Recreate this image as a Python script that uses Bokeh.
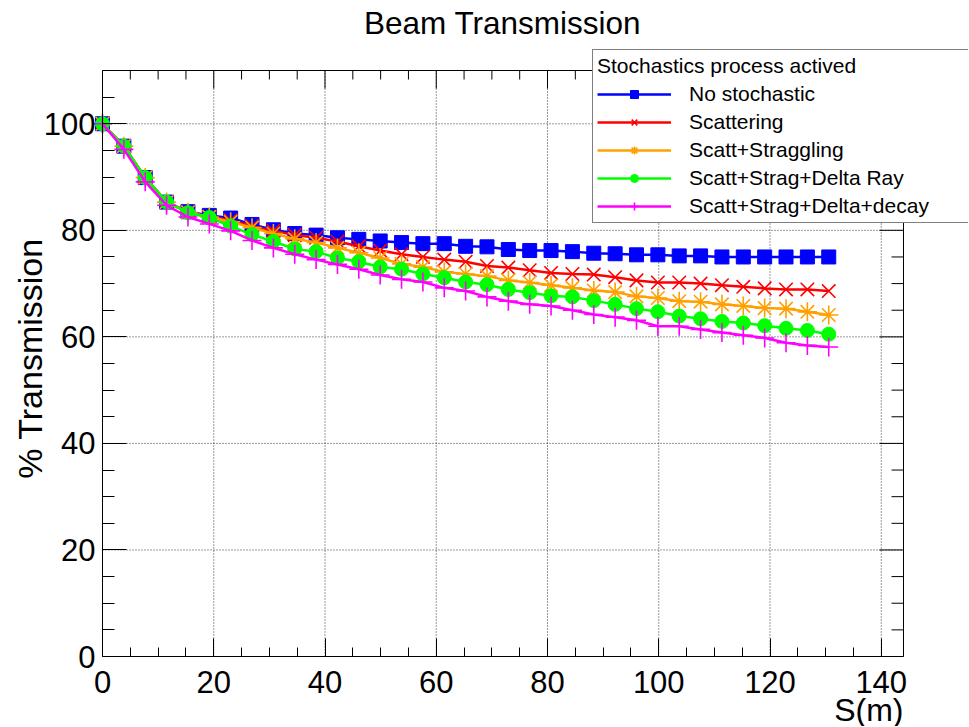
from bokeh.plotting import figure
from bokeh.models import Range1d, FixedTicker, Legend, LegendItem, Label
from bokeh.embed import file_html
from bokeh.resources import INLINE
import math

# ---------------- data ----------------
s_m = [0.0, 3.84, 7.68, 11.52, 15.36, 19.2, 23.04, 26.88, 30.72, 34.56, 38.4,
       42.24, 46.08, 49.92, 53.76, 57.6, 61.44, 65.28, 69.12, 72.96, 76.8,
       80.64, 84.48, 88.32, 92.16, 96.0, 99.84, 103.68, 107.52, 111.36, 115.2,
       119.04, 122.88, 126.72, 130.56]

no_stochastic = [100, 95.8, 89.9, 85.3, 83.5, 82.8, 82.3, 81.1, 80.1, 79.4, 79.1,
                 78.6, 78.3, 78.0, 77.7, 77.5, 77.5, 77.0, 76.9, 76.4, 76.2,
                 76.2, 76.0, 75.7, 75.6, 75.4, 75.4, 75.2, 75.2, 75.0, 75.0,
                 75.0, 75.0, 75.0, 75.0]

scattering = [100, 95.8, 89.9, 85.3, 83.4, 82.6, 81.9, 80.8, 79.9, 79.1, 78.6,
              77.9, 77.0, 76.2, 75.5, 75.0, 74.5, 74.1, 73.3, 73.0, 72.5,
              72.0, 71.8, 71.7, 71.2, 70.6, 70.2, 70.2, 70.0, 69.7, 69.4,
              69.1, 68.9, 68.9, 68.6]

scatt_straggling = [100, 95.8, 89.9, 85.3, 83.4, 82.5, 81.6, 80.5, 79.4, 78.4, 77.7,
                    76.7, 75.8, 74.8, 73.7, 73.1, 72.2, 71.8, 71.4, 70.6, 70.2,
                    69.7, 69.2, 68.7, 68.4, 67.6, 67.3, 66.7, 66.6, 66.1, 65.8,
                    65.4, 65.3, 64.7, 64.1]

scatt_strag_delta = [100, 95.8, 89.9, 85.3, 83.3, 82.4, 80.8, 79.2, 77.9, 76.5, 76.0,
                     74.8, 74.1, 73.1, 72.7, 71.8, 71.1, 70.3, 69.8, 68.9, 68.3,
                     67.7, 67.5, 66.8, 66.1, 65.3, 64.7, 63.9, 63.4, 62.9, 62.6,
                     62.1, 61.6, 61.2, 60.5]

scatt_strag_delta_decay = [100, 95.2, 89.1, 84.7, 82.5, 81.2, 79.9, 78.1, 76.7, 75.5, 74.5,
                           73.6, 72.7, 71.6, 70.8, 70.3, 69.2, 68.6, 67.5, 66.7, 66.1,
                           65.8, 65.0, 64.2, 63.7, 63.1, 62.0, 62.0, 61.4, 60.8, 60.3,
                           59.8, 58.9, 58.4, 58.1]

series_labels = ["No stochastic", "Scattering", "Scatt+Straggling",
                 "Scatt+Strag+Delta Ray", "Scatt+Strag+Delta+decay"]

x_major_ticks = [0, 20, 40, 60, 80, 100, 120, 140]
x_minor_ticks = [5, 10, 15, 25, 30, 35, 45, 50, 55, 65, 70, 75, 85, 90, 95,
                 105, 110, 115, 125, 130, 135]
y_major_ticks = [0, 20, 40, 60, 80, 100]
y_minor_ticks = [5, 10, 15, 25, 30, 35, 45, 50, 55, 65, 70, 75, 85, 90, 95, 105]

X_MAX = 144
Y_MAX = 110

FONT = "Liberation Sans"

# geometry (pixels)
AX_W = 801   # width of the drawn axes box
AX_H = 586   # height of the drawn axes box
PX_X = AX_W / X_MAX
PX_Y = AX_H / Y_MAX
CANVAS_W, CANVAS_H = 968, 726
LEFT, BOTTOM = 102, 70   # position of the axes origin from left / bottom of canvas

def dx(px):   # canvas pixel column -> data x
    return (px - LEFT) / PX_X

def dy(py):   # canvas pixel row (from top) -> data y
    return (CANVAS_H - BOTTOM - py) / PX_Y

p = figure(frame_width=CANVAS_W, frame_height=CANVAS_H, title=None,
           x_range=Range1d(dx(0), dx(CANVAS_W)),
           y_range=Range1d(dy(CANVAS_H), dy(0)),
           output_backend="svg", toolbar_location=None,
           min_border_left=0, min_border_right=0,
           min_border_top=0, min_border_bottom=0)
p.outline_line_color = None
p.background_fill_color = "white"
p.border_fill_color = "white"
p.xgrid.visible = False
p.ygrid.visible = False

xt = FixedTicker(ticks=x_major_ticks, minor_ticks=x_minor_ticks)
yt = FixedTicker(ticks=y_major_ticks, minor_ticks=y_minor_ticks)

xa = p.xaxis[0]
ya = p.yaxis[0]
xa.ticker = xt
ya.ticker = yt
xa.bounds = (0, X_MAX)
ya.bounds = (0, Y_MAX)
xa.fixed_location = 0
ya.fixed_location = 0

for ax, maj, mnr, std in ((xa, 18, 9, 14), (ya, 24, 12, 7)):
    ax.axis_line_color = "black"
    ax.major_tick_in = maj
    ax.major_tick_out = 0
    ax.minor_tick_in = mnr
    ax.minor_tick_out = 0
    ax.major_tick_line_color = "black"
    ax.minor_tick_line_color = "black"
    ax.major_label_text_font = FONT
    ax.major_label_text_font_size = "31px"
    ax.major_label_text_color = "black"
    ax.major_label_standoff = std

# grid lines (dotted) at major ticks
gx = x_major_ticks[1:]
p.segment(x0=gx, y0=[0] * len(gx), x1=gx, y1=[Y_MAX] * len(gx),
          line_color="black", line_dash="1 2", line_width=1, line_alpha=0.8)
gy = y_major_ticks[1:]
p.segment(x0=[0] * len(gy), y0=gy, x1=[X_MAX] * len(gy), y1=gy,
          line_color="black", line_dash="1 2", line_width=1, line_alpha=0.8)

# top and right sides of the box with mirrored ticks
p.segment(x0=[0, X_MAX], y0=[Y_MAX, 0], x1=[X_MAX, X_MAX], y1=[Y_MAX, Y_MAX],
          line_color="black", line_width=1)
tx = x_major_ticks + x_minor_ticks
tlen = [18 / PX_Y] * len(x_major_ticks) + [9 / PX_Y] * len(x_minor_ticks)
p.segment(x0=tx, y0=[Y_MAX] * len(tx), x1=tx, y1=[Y_MAX - L for L in tlen],
          line_color="black", line_width=1)
ty = y_major_ticks + y_minor_ticks
tlen_y = [24 / PX_X] * len(y_major_ticks) + [12 / PX_X] * len(y_minor_ticks)
p.segment(x0=[X_MAX] * len(ty), y0=ty, x1=[X_MAX - L for L in tlen_y], y1=ty,
          line_color="black", line_width=1)

series = [no_stochastic, scattering, scatt_straggling, scatt_strag_delta, scatt_strag_delta_decay]
colors = ["#0000ff", "#ff0000", "#ffa000", "#00ff00", "#ff00ff"]
markers = ["square", "x", "asterisk", "circle", "cross"]
sizes = [14, 19, 19, 14, 19]

items = []
for ys, col, mk, sz, lab in zip(series, colors, markers, sizes, series_labels):
    lr = p.line(s_m, ys, line_color=col, line_width=2.5)
    if mk in ("square", "circle"):
        sr = p.scatter(s_m, ys, marker=mk, size=sz, fill_color=col, line_color=col)
    else:
        sr = p.scatter(s_m, ys, marker=mk, size=sz, line_color=col, line_width=1.6, fill_color=None)
    items.append(LegendItem(label=lab, renderers=[lr, sr]))

legend = Legend(items=items, location=(592, CANVAS_H - 223),
                title="Stochastics process actived",
                title_text_font=FONT, title_text_font_size="21px",
                title_text_font_style="normal", title_text_color="black",
                title_standoff=4,
                label_text_font=FONT, label_text_font_size="21px",
                label_text_color="black",
                glyph_width=74, glyph_height=20, label_standoff=18,
                label_width=276, label_height=22,
                padding=4, spacing=4, margin=0,
                border_line_color="black", border_line_width=1,
                background_fill_color="white", background_fill_alpha=1.0)
p.add_layout(legend)

title = Label(x=dx(502), y=dy(22), text="Beam Transmission", text_align="center",
              text_baseline="middle", text_font=FONT, text_font_size="31.5px",
              text_color="black")
p.add_layout(title)

ylab = Label(x=dx(29), y=dy(358), text="% Transmission", angle=math.pi / 2,
             text_align="center", text_baseline="middle", text_font=FONT,
             text_font_size="34px", text_color="black")
p.add_layout(ylab)

xlab = Label(x=X_MAX, y=dy(709), text="S(m)", text_align="right",
             text_baseline="middle", text_font=FONT, text_font_size="32px",
             text_color="black")
p.add_layout(xlab)

open("out.html", "w").write(file_html(p, INLINE))
